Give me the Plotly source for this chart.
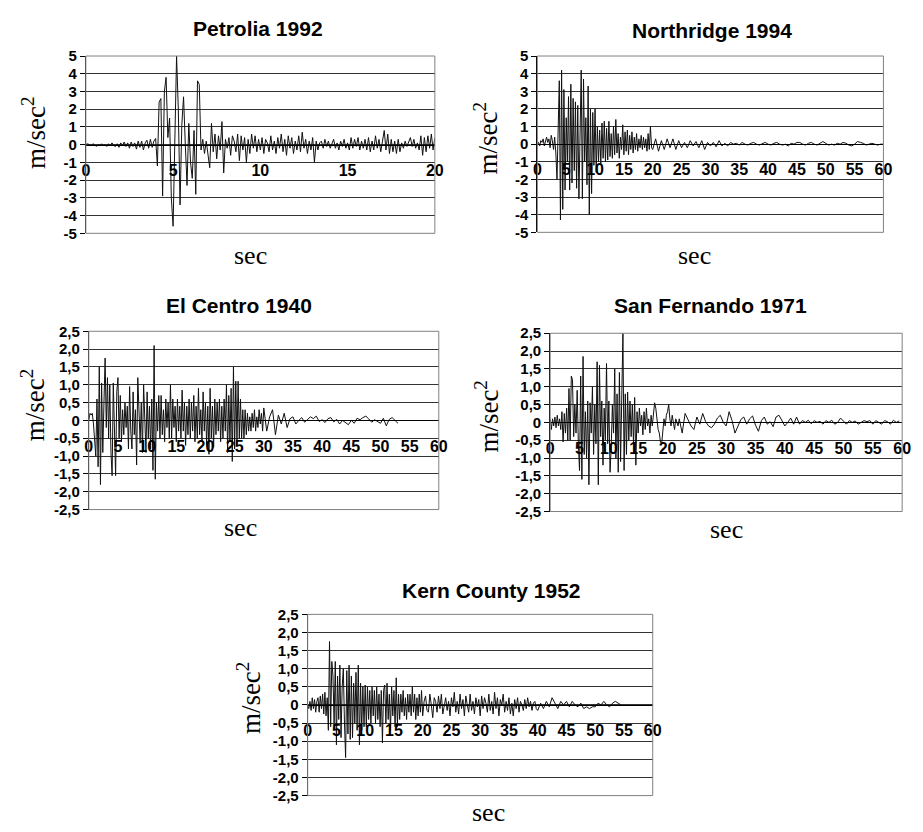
import plotly.graph_objects as go

W, H = 923, 832

# ---------------- data (acceleration, m/sec^2) ----------------
# Petrolia 1992, sampled every 0.1 s from 0 to 20 s
pet_dt = 0.1
pet_acc = [
    0, 0.05, 0, -0.05, 0.05, 0, -0.1, 0, -0.05, 0.05, -0.05,
    0, -0.1, 0.05, -0.05, 0.1, -0.05, -0.1, 0.05, -0.15, 0.1,
    -0.05, 0.15, -0.1, 0.1, -0.2, 0.15, -0.1, 0.1, -0.25, 0.2,
    -0.15, 0.2, -0.3, 0.1, 0.25, -0.2, 0.3, -0.15, 0.2, 0.35,
    -1.2, 2.4, 2.6, -2.9, 3.0, 3.8, 0.4, 1.5, -3.0, -4.6,
    0.8, 5.0, 2.0, -3.4, 1.1, 2.7, 0.0, -2.3, 1.2, -1.0,
    -1.9, 0.8, -2.8, 3.6, 3.4, -0.3, 0.3, -0.5, 0.2, -0.6,
    -1.3, 1.2, -0.4, 0.6, -0.8, 0.5, -0.3, 1.3, -1.6, 0.3,
    -0.2, 0.4, -0.6, 0.5, 0.2, -0.4, 0.6, -0.9, 0.5, -0.3,
    0.4, -1.0, 0.3, -0.5, 0.6, -0.2, 0.5, -0.4, 0.3, -0.3,
    0.4, -0.5, 0.3, 0.1, -0.4, 0.5, -0.3, 0.2, -0.5, 0.4,
    -0.2, 0.6, -0.4, 0.3, -0.6, 0.5, -0.2, 0.4, -0.5, 0.2,
    -0.3, 0.5, -0.4, 0.7, -0.2, 0.3, -0.5, 0.2, -0.3, 0.4,
    -1.0, 0.2, -0.3, 0.1, 0.2, -0.2, 0.3, -0.1, 0.2, -0.2,
    0.1, 0.3, -0.2, 0.1, -0.3, 0.2, -0.1, 0.3, -0.2, 0.1,
    -0.3, 0.4, -0.2, 0.3, -0.1, 0.4, -0.3, 0.2, -0.2, 0.3,
    -0.3, 0.4, -0.4, 0.2, -0.3, 0.5, -0.2, 0.3, -0.4, 0.3,
    0.8, -0.3, 0.6, -0.5, 0.3, -0.4, 0.2, -0.5, 0.3, -0.4,
    0.1, -0.2, 0.2, -0.1, 0.2, 0.4, -0.1, 0.3, -0.2, 0.1,
    -0.3, 0.5, -0.6, 0.4, -0.4, 0.5, -0.2, 0.6, -0.3, 0.4,
]

# Northridge 1994: every 0.2 s from 0 to 19.8 s, then every 0.5 s from 20 to 60 s
nr_dt1 = 0.2
nr_acc1 = [
    0, 0.1, -0.1, 0.2, 0.1, 0.3, -0.1, 0.2, 0.4, 0.1,
    0.3, -0.2, 0.5, 0.2, -0.3, 0.4, -0.5, -2.0, 1.8, 3.6,
    -4.3, 4.2, -3.7, 3.1, -2.6, 1.5, -1.0, 2.7, -2.6, 3.4,
    -2.2, 2.6, -1.5, 2.4, -2.5, 2.2, -3.1, 1.5, 4.2, -3.1,
    3.7, -1.0, 1.5, -2.3, 3.3, -4.0, 2.0, -2.8, 1.8, -1.2,
    2.0, -1.6, 1.0, -1.0, 0.8, -1.1, 1.2, -0.8, 1.3, -1.0,
    0.9, -0.9, 1.3, -0.7, 0.6, -0.8, 1.0, -0.6, 1.4, -0.5,
    0.6, -0.8, 0.4, -0.3, 1.1, -0.6, 0.7, -0.4, 0.8, -0.6,
    0.5, -0.3, 0.7, -0.5, 0.4, -0.3, 0.6, -0.4, 0.3, -0.2,
    0.5, -0.3, 0.4, -0.2, 0.3, -0.4, 0.6, -0.3, 1.0, -0.2,
]
nr_t2 = 20.0
nr_dt2 = 0.5
nr_acc2 = [
    -0.3, 0.3, -0.4, 0.2, -0.3, 0.3, -0.2, 0.3, -0.3, 0.2, -0.2,
    0.1, -0.2, 0.2, -0.1, 0.15, -0.2, 0.2, -0.3, 0.1, -0.1,
    0.1, -0.15, 0.2, -0.1, 0.05, -0.1, 0.1, 0.0, 0.05, -0.05,
    0.1, 0.0, -0.05, 0.05, 0.1, 0.0, -0.05, 0.05, 0.1, 0.0,
    -0.05, 0.05, 0.1, 0.0, -0.05, 0.0, -0.1, 0.05, 0.0, 0.1,
    0.1, 0.0, -0.05, 0.05, 0.1, 0.0, -0.05, 0.05, 0.15, 0.05,
    -0.05, 0.0, -0.05, 0.05, 0.0, 0.1, 0.05, -0.05, -0.1, 0.0,
    0.15, 0.1, 0.05, -0.05, 0.0, 0.05, 0.0, -0.05, 0.0, 0.0,
]

# El Centro 1940: every 0.2 s from 0 to 29.8 s, then every 0.5 s from 30 to 53 s
ec_dt1 = 0.2
ec_acc1 = [
    0.0, 0.2, 0.15, 0.2, -0.1, -0.5, -1.0, 0.6, -1.3, 1.5,
    -1.8, 1.05, -0.9, 0.5, 1.75, -0.2, 1.2, -0.5, 1.0, -0.9,
    -1.55, 1.05, -0.4, -1.55, 0.8, 1.2, -0.5, 0.7, -0.6, 0.3,
    -0.4, 0.5, -0.2, 0.4, -0.8, 0.95, -0.3, -0.8, 0.8, -0.4,
    0.3, -1.25, 1.2, 0.2, -0.6, 0.5, -0.9, 1.0, -0.3, -0.9,
    0.8, -0.5, 0.4, -0.8, 0.6, -1.4, 2.1, -1.65, 0.5, -0.3,
    0.7, -0.5, 0.7, -0.4, 0.3, -0.6, 0.6, -0.2, 0.5, -0.5,
    1.0, -0.5, 0.6, -0.2, 0.4, -0.6, 0.6, -0.3, 0.4, -0.5,
    0.85, -0.3, 0.5, -0.7, 0.4, -0.4, 0.6, -0.5, 0.5, -0.3,
    0.7, -0.6, 0.4, -0.5, 0.9, -0.4, 0.3, -0.6, 0.8, -0.3,
    0.5, -0.7, 0.4, -0.95, 0.9, -0.5, 0.4, -0.75, 0.6, -0.4,
    0.5, -0.3, 0.6, -0.6, 0.4, -0.5, 0.6, -0.3, 1.0, -0.9,
    0.7, -0.6, 0.9, -1.15, 1.5, -0.8, 1.1, -0.6, 1.1, -0.5,
    0.6, -0.5, 0.3, -0.5, 0.3, -0.4, 0.2, -0.3, 0.1, -0.3,
    0.2, -0.2, 0.3, -0.3, 0.1, -0.2, 0.3, -0.1, 0.2, -0.3,
]
ec_t2 = 30.0
ec_dt2 = 0.5
ec_acc2 = [
    0.35, -0.3, 0.1, 0.3, -0.4, 0.15, -0.1, 0.2, -0.2, 0.05,
    0.1, -0.1, 0.0, 0.08, -0.05, 0.02, 0.1, 0.05, 0.12, -0.03,
    0.02, -0.06, 0.05, 0.08, -0.04, 0.03, -0.1, 0.0, -0.06, -0.12,
    0.0, -0.08, 0.06, 0.02, 0.08, 0.12, 0.04, -0.05, 0.02, -0.02,
    -0.08, 0.06, -0.15, 0.03, 0.08, 0.0, -0.08,
]

# San Fernando 1971: every 0.2 s from 0 to 21.8 s, then every 0.5 s from 22 to 59.5 s
sf_dt1 = 0.2
sf_acc1 = [
    0.1, -0.2, 0.1, -0.1, 0.15, -0.15, 0.2, -0.1, 0.1, -0.2,
    0.3, -0.55, 0.25, -0.3, 0.4, -0.5, 0.95, -0.5, 1.3, 1.2,
    -0.4, 0.5, -0.3, 0.9, -0.6, -1.35, 1.3, -1.6, 1.85, -0.9,
    0.3, -1.0, 0.6, -1.75, 0.55, -0.3, 1.0, -0.9, 0.5, -0.6,
    1.7, -1.75, 1.6, -0.4, 0.6, -1.2, 0.4, -0.5, 1.65, -0.6,
    0.6, -1.4, -0.7, 0.5, -0.3, 1.5, -1.0, 0.8, -1.4, 1.4,
    -1.1, 1.5, 2.5, -1.35, 0.8, -0.9, 0.85, -0.5, 0.6, -0.4,
    0.5, -0.6, 0.7, -1.2, 0.3, -0.3, 0.4, -0.1, 0.2, -0.35,
    0.3, -0.2, 0.4, -0.1, 0.1, -0.3, 0.2, -0.1, 0.2, 0.55,
    0.4, 0.1, -0.2, -0.3, -0.55, -0.6, -0.2, 0.1, -0.1, 0.2,
    0.3, 0.5, 0.1, -0.1, 0.2, 0.0, -0.2, 0.1, 0.0, -0.1,
]
sf_t2 = 22.0
sf_dt2 = 0.5
sf_acc2 = [
    0.1, -0.3, 0.25, 0.05, -0.1, -0.2, 0.15, -0.05, 0.25, 0.02,
    -0.1, -0.15, -0.05, 0.12, 0.2, 0.0, -0.1, 0.3, 0.05, -0.3,
    -0.12, 0.08, 0.15, -0.05, 0.1, 0.18, -0.08, -0.25, 0.05, 0.15,
    -0.05, 0.02, -0.12, 0.15, 0.2, 0.05, -0.1, 0.0, 0.12, -0.05,
    0.15, -0.05, 0.05, 0.0, 0.06, -0.04, 0.05, 0.0, 0.03, -0.05,
    0.05, 0.0, 0.06, -0.05, 0.0, 0.12, 0.02, -0.05, 0.05, 0.0,
    0.04, -0.05, 0.0, 0.05, 0.02, 0.05, -0.05, 0.05, 0.0, -0.05,
    0.05, 0.02, -0.05, 0.06, 0.0, 0.04,
]

# Kern County 1952: every 0.2 s (0-19.8 s), every 0.25 s (20-39.75 s), every 0.5 s (40-54.5 s)
kc_dt1 = 0.2
kc_acc1 = [
    0.0, -0.1, 0.1, -0.15, 0.2, -0.1, 0.15, -0.2, 0.1, 0.2,
    -0.2, 0.25, -0.1, 0.3, -0.25, 0.35, -0.3, 0.2, -0.7, 1.75,
    -0.6, 1.2, 0.8, -0.5, 1.2, -1.1, 0.8, -0.4, 1.1, -0.9,
    0.5, 1.0, -0.5, -1.45, 0.95, -0.8, 1.1, -0.95, 0.8, -0.9,
    0.6, -0.5, 0.9, -0.7, 1.1, -1.1, 0.6, -0.7, 0.5, -0.6,
    0.55, -0.6, 0.5, -0.4, 0.4, -0.5, 0.5, -0.3, 0.4, -0.5,
    0.5, -0.4, 0.3, -0.6, 0.4, -1.05, 0.4, 0.55, -0.5, 0.6,
    -0.4, 0.3, -0.7, 0.5, -0.3, 0.4, -0.6, 0.75, -0.6, 0.3,
    -0.4, 0.3, -0.2, 0.4, -0.3, 0.2, -0.4, 0.3, -0.2, 0.3,
    -0.3, 0.5, -0.2, 0.3, -0.4, 0.2, -0.3, 0.3, -0.2, 0.4,
]
kc_t2 = 20.0
kc_dt2 = 0.25
kc_acc2 = [
    -0.3, 0.1, 0.25, -0.15, -0.2, 0.3, 0.0, -0.35, 0.2, 0.1,
    -0.2, 0.25, -0.1, 0.3, -0.25, 0.05, 0.2, -0.15, 0.1, -0.3,
    0.2, -0.05, 0.35, -0.2, 0.1, -0.25, 0.3, -0.1, 0.15, -0.3,
    0.25, 0.0, -0.2, 0.3, -0.15, 0.1, -0.25, 0.2, -0.05, 0.15,
    -0.3, 0.25, -0.1, 0.2, 0.05, -0.2, 0.3, -0.15, 0.1, -0.25,
    0.35, -0.1, 0.2, -0.3, 0.15, 0.0, 0.3, -0.2, 0.1, -0.15,
    0.2, -0.25, 0.05, -0.3, 0.15, -0.1, 0.2, -0.2, 0.1, 0.0,
    -0.15, 0.15, -0.1, 0.2, -0.05, 0.1, -0.15, 0.05, 0.1, -0.1,
]
kc_t3 = 40.0
kc_dt3 = 0.5
kc_acc3 = [
    -0.15, 0.05, -0.1, 0.1, -0.05, 0.2, 0.05, -0.1, 0.1, 0.0,
    0.1, -0.05, 0.1, 0.0, -0.05, 0.05, -0.1, -0.05, -0.1, -0.05,
    -0.05, 0.05, 0.0, 0.1, 0.0, -0.05, 0.05, 0.1, 0.05, 0.0,
]

# tick labels and texts
titles = ["Petrolia 1992", "Northridge 1994", "El Centro 1940",
          "San Fernando 1971", "Kern County 1952"]
x_ticks_20 = [0, 5, 10, 15, 20]
x_ticks_60 = [0, 5, 10, 15, 20, 25, 30, 35, 40, 45, 50, 55, 60]
y_ticks_5 = [-5, -4, -3, -2, -1, 0, 1, 2, 3, 4, 5]
y_text_5 = ["-5", "-4", "-3", "-2", "-1", "0", "1", "2", "3", "4", "5"]
y_ticks_25 = [-2.5, -2.0, -1.5, -1.0, -0.5, 0, 0.5, 1.0, 1.5, 2.0, 2.5]
y_text_25 = ["-2,5", "-2,0", "-1,5", "-1,0", "-0,5", "0",
             "0,5", "1,0", "1,5", "2,0", "2,5"]
x_label = "sec"
y_label = "m/sec<sup>2</sup>"


def times(start, dt, n):
    return [round(start + i * dt, 3) for i in range(n)]


series = [
    (times(0, pet_dt, len(pet_acc)), pet_acc),
    (times(0, nr_dt1, len(nr_acc1)) + times(nr_t2, nr_dt2, len(nr_acc2)),
     nr_acc1 + nr_acc2),
    (times(0, ec_dt1, len(ec_acc1)) + times(ec_t2, ec_dt2, len(ec_acc2)),
     ec_acc1 + ec_acc2),
    (times(0, sf_dt1, len(sf_acc1)) + times(sf_t2, sf_dt2, len(sf_acc2)),
     sf_acc1 + sf_acc2),
    (times(0, kc_dt1, len(kc_acc1)) + times(kc_t2, kc_dt2, len(kc_acc2))
     + times(kc_t3, kc_dt3, len(kc_acc3)),
     kc_acc1 + kc_acc2 + kc_acc3),
]
axes_spec = [
    ([0, 20], x_ticks_20, [-5, 5], y_ticks_5, y_text_5),
    ([0, 60], x_ticks_60, [-5, 5], y_ticks_5, y_text_5),
    ([0, 60], x_ticks_60, [-2.5, 2.5], y_ticks_25, y_text_25),
    ([0, 60], x_ticks_60, [-2.5, 2.5], y_ticks_25, y_text_25),
    ([0, 60], x_ticks_60, [-2.5, 2.5], y_ticks_25, y_text_25),
]

# ---------------- layout geometry (pixels) ----------------
# plot box (x0, x1, y0, y1), title centre, y-label centre, x-label centre
geom = [
    ((83, 437, 48, 229), (258, 20), (31, 127), (250, 252)),
    ((541, 892, 48, 228), (718, 22), (489, 132), (700, 252)),
    ((86, 441, 329, 511), (238, 303), (29, 405), (240, 529)),
    ((554, 911, 331, 513), (717, 303), (489, 416), (733, 531)),
    ((308, 658, 618, 803), (494, 594), (248, 704), (491, 820)),
]


def px(x):
    return x / W


def py(y):
    return 1 - y / H


fig = go.Figure()
layout = dict(
    width=W, height=H, margin=dict(l=0, r=0, t=0, b=0),
    paper_bgcolor="white", plot_bgcolor="white", showlegend=False,
    shapes=[], annotations=[],
)

xtick_font = dict(family="Liberation Sans", size=16, color="#000", weight="bold")
ytick_font = dict(family="Liberation Sans", size=15, color="#000", weight="bold")

for i, ((t, a), (xr, xt, yr, yt, ytt), (box, tpos, ylpos, xlpos)) in enumerate(
        zip(series, axes_spec, geom)):
    k = i + 1
    xa = "x" if k == 1 else f"x{k}"
    ya = "y" if k == 1 else f"y{k}"
    x0, x1, y0, y1 = box
    yzero = y0 + (y1 - y0) * (yr[1] - 0) / (yr[1] - yr[0])

    fig.add_trace(go.Scatter(
        x=t, y=a, mode="lines", xaxis=xa, yaxis=ya,
        line=dict(color="#111", width=1), hoverinfo="skip", showlegend=False,
    ))

    layout["xaxis" + ("" if k == 1 else str(k))] = dict(
        domain=[px(x0), px(x1)], range=xr, anchor="free", position=py(yzero),
        showline=True, linecolor="#000", linewidth=1, ticks="",
        tickvals=xt, ticktext=[str(v) for v in xt], tickangle=0,
        tickfont=xtick_font, showgrid=False, zeroline=False,
        ticklabelstandoff=11, fixedrange=True,
    )
    layout["yaxis" + ("" if k == 1 else str(k))] = dict(
        domain=[py(y1), py(y0)], range=yr, anchor=xa,
        tickvals=yt, ticktext=ytt, tickfont=ytick_font,
        showgrid=True, gridcolor="#333", gridwidth=1, zeroline=False,
        showline=True, linecolor="#000", linewidth=1,
        ticks="outside", ticklen=5, tickcolor="#000", fixedrange=True,
    )
    layout["shapes"].append(dict(
        type="rect", xref=f"{xa} domain", yref=f"{ya} domain",
        x0=0, x1=1, y0=0, y1=1, line=dict(color="#808080", width=1),
    ))
    layout["annotations"].append(dict(
        text=titles[i], x=px(tpos[0]), y=py(tpos[1]), xref="paper", yref="paper",
        xanchor="center", yanchor="middle", showarrow=False,
        font=dict(family="Liberation Sans", size=21, color="#000", weight="bold"),
    ))
    layout["annotations"].append(dict(
        text=y_label, x=px(ylpos[0]), y=py(ylpos[1]), xref="paper", yref="paper",
        xanchor="center", yanchor="middle", showarrow=False, textangle=-90,
        font=dict(family="Liberation Serif", size=27, color="#000"),
    ))
    layout["annotations"].append(dict(
        text=x_label, x=px(xlpos[0]), y=py(xlpos[1]), xref="paper", yref="paper",
        xanchor="center", yanchor="middle", showarrow=False,
        font=dict(family="Liberation Serif", size=26, color="#000"),
    ))

fig.update_layout(**layout)
fig.write_html("out.html", config={"displayModeBar": False},
               post_script="document.body.style.margin='0px';")
